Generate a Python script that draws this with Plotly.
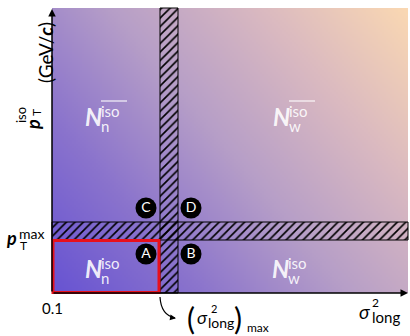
import numpy as np
import plotly.graph_objects as go

# ---------------- data (schematic units along the two axes) ----------------
sigma_axis_len = 356          # length of sigma^2_long axis
pt_axis_len = 285             # length of p_T^iso axis
sigma_cut = 117               # (sigma^2_long)_max band centre
pt_cut = 62                   # p_T^max band centre
band_width = 18               # width of the hatched transition bands

region_letters = ["C", "D", "A", "B"]
region_x = [94, 139, 94, 139]
region_y = [85, 85, 39, 39]

count_labels = ["n", "w", "n", "w"]
count_overline = [True, True, False, False]
count_x = [41, 229, 41, 228]
count_y = [177, 177, 25, 25]

FONT = "Lato"

fig = go.Figure()

# gradient background (decorative)
nx, ny = 178, 143
gx = (np.arange(nx) + 0.5) * sigma_axis_len / nx
gy = (np.arange(ny) + 0.5) * pt_axis_len / ny
U, V = np.meshgrid(gx / sigma_axis_len, gy / pt_axis_len)
Z = 0.6 * U + 0.4 * V
fig.add_trace(go.Heatmap(
    x=gx, y=gy, z=Z, zmin=0, zmax=1, zsmooth=False, showscale=False,
    hoverinfo="skip",
    colorscale=[[0, "#6652d2"], [0.25, "#8a73cc"], [0.5, "#b69ec7"],
                [0.75, "#dab9c0"], [1, "#fad8b2"]]))

pattern = dict(shape="/", fgcolor="black", bgcolor="rgba(0,0,0,0)",
               size=6, solidity=0.27, fgopacity=1)
# vertical hatched band (sigma cut)
fig.add_trace(go.Bar(x=[sigma_cut], y=[pt_axis_len], base=[0], width=[band_width],
                     opacity=1,
                     marker=dict(color="rgba(0,0,0,0)", pattern=pattern, opacity=1,
                                 line=dict(color="black", width=1)),
                     hoverinfo="skip"))
# horizontal hatched band (pT cut)
fig.add_trace(go.Bar(y=[pt_cut], x=[sigma_axis_len], base=[0], width=[band_width],
                     orientation="h", opacity=1,
                     marker=dict(color="rgba(0,0,0,0)", pattern=pattern, opacity=1,
                                 line=dict(color="black", width=1)),
                     hoverinfo="skip"))

# region markers
fig.add_trace(go.Scatter(
    x=region_x, y=region_y, mode="markers+text", text=region_letters,
    marker=dict(size=21, color="black"),
    textfont=dict(family=FONT, size=14, color="white"),
    textposition="middle center", hoverinfo="skip"))

# signal region box
half = band_width / 2
fig.add_shape(type="rect", x0=1, x1=sigma_cut - half - 1, y0=0.5, y1=pt_cut - half - 0.5,
              line=dict(color="#e8101c", width=3), layer="above")

ann = []
def txt(x, y, s, size, xanchor="center", angle=0, color="black", yanchor="middle"):
    ann.append(dict(x=x, y=y, text=s, showarrow=False, xanchor=xanchor, yanchor=yanchor,
                    textangle=angle, font=dict(family=FONT, size=size, color=color),
                    borderpad=0))

# count labels
wc = "rgba(255,255,255,0.9)"
for lab, ov, cx, cy in zip(count_labels, count_overline, count_x, count_y):
    txt(cx, cy, "<b><i>N</i></b>", 24, color=wc)
    txt(cx + 7, cy + 5, "iso", 15, xanchor="left", color=wc)
    txt(cx + 7, cy - 10, lab, 15, xanchor="left", color=wc)
    if ov:
        fig.add_shape(type="line", x0=cx + 8, x1=cx + 34, y0=cy + 15, y1=cy + 15,
                      line=dict(color=wc, width=1.2), layer="above")

# y-axis title (rotated)
txt(-19, 168, "<b><i>p</i></b>", 18, angle=-90)
txt(-31, 178, "iso", 13, angle=-90)
txt(-16, 180, "T", 12, angle=-90)
txt(-7, 240, "(GeV/<b><i>c</i></b>)", 19, angle=-90)

# pT max label
txt(-41, 55, "<b><i>p</i></b>", 18)
txt(-34, 60, "max", 14, xanchor="left")
txt(-33, 48, "T", 12, xanchor="left")

# 0.1 label
txt(0, -14.5, "0.1", 15)

# sigma^2_long axis label
txt(312, -18, "<i>σ</i>", 19)
txt(319, -9, "2", 12, xanchor="left")
txt(319, -24, "long", 15, xanchor="left")

# (sigma^2_long)_max label
txt(139, -25, "(", 30)
txt(150, -24, "<i>σ</i>", 18)
txt(158, -15, "2", 11, xanchor="left")
txt(155, -29.5, "long", 14, xanchor="left")
txt(186, -25, ")", 30)
txt(194, -43, "max", 12, xanchor="left", yanchor="bottom")

# axes arrows
ann.append(dict(x=0, y=pt_axis_len - 1, ax=0, ay=0, xref="x", yref="y", axref="x", ayref="y",
                showarrow=True, arrowhead=2, arrowsize=1, arrowwidth=1.5, arrowcolor="black", text=""))
ann.append(dict(x=sigma_axis_len, y=0, ax=0, ay=0, xref="x", yref="y", axref="x", ayref="y",
                showarrow=True, arrowhead=2, arrowsize=1, arrowwidth=1.5, arrowcolor="black", text=""))

# curved arrow to (sigma^2_long)_max
fig.add_shape(type="path", path="M 108,-4 Q 109,-22 123,-25",
              line=dict(color="black", width=1.2), layer="above")
ann.append(dict(x=124, y=-25.3, ax=119, ay=-24.5, xref="x", yref="y", axref="x", ayref="y",
                showarrow=True, arrowhead=2, arrowsize=1, arrowwidth=1.2, arrowcolor="black", text=""))

fig.update_layout(
    width=410, height=336, margin=dict(l=0, r=0, t=0, b=0),
    paper_bgcolor="white", plot_bgcolor="white", showlegend=False,
    barmode="overlay",
    xaxis=dict(visible=False, range=[-52, 358], fixedrange=True),
    yaxis=dict(visible=False, range=[-43, 293], fixedrange=True),
    annotations=ann,
)

fig.write_html("out.html", config={"displayModeBar": False},
               post_script="document.body.style.margin='0';")
